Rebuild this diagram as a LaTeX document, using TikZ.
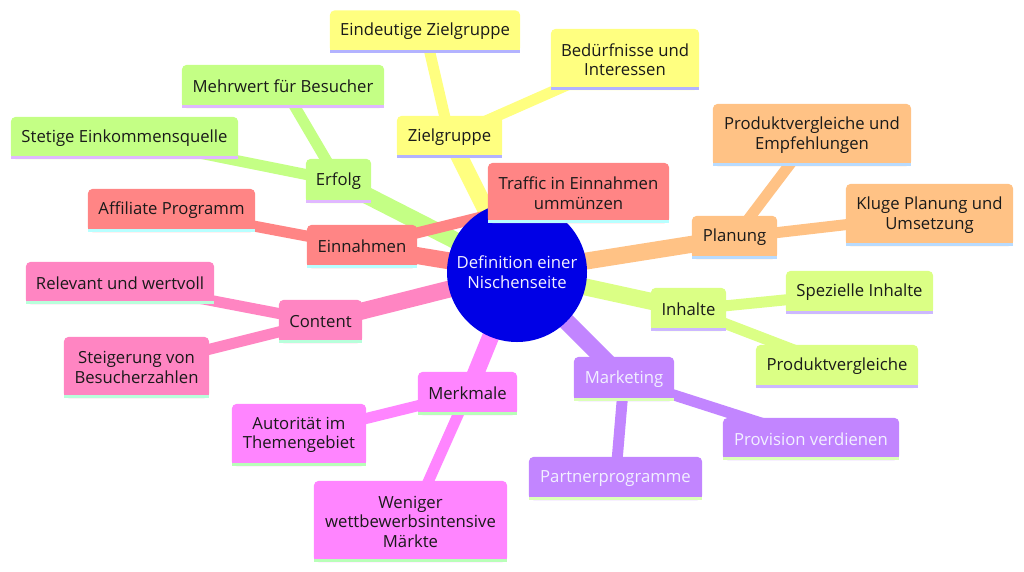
\documentclass[tikz,border=0pt]{standalone}
\usepackage{fontspec}
\setmainfont{Open Sans}
\pgfdeclarelayer{edges}
\pgfdeclarelayer{boxes}
\pgfsetlayers{edges,boxes,main}
\definecolor{txt}{HTML}{1A1A1A}
\definecolor{lighttxt}{HTML}{F2F0FF}
\definecolor{rootblue}{HTML}{0000E6}
\definecolor{cYel}{HTML}{FFFF80}\definecolor{bYel}{HTML}{B3B3FF}
\definecolor{cGrn}{HTML}{C4FF85}\definecolor{bGrn}{HTML}{E0B8FF}
\definecolor{cRed}{HTML}{FF8585}\definecolor{bRed}{HTML}{B8FFFF}
\definecolor{cPnk}{HTML}{FF85C2}\definecolor{bPnk}{HTML}{B8FFDB}
\definecolor{cMag}{HTML}{FF85FF}\definecolor{bMag}{HTML}{B8FFB8}
\definecolor{cPur}{HTML}{C285FF}\definecolor{bPur}{HTML}{DBFFB8}
\definecolor{cLim}{HTML}{DBFF85}\definecolor{bLim}{HTML}{CCB8FF}
\definecolor{cOrg}{HTML}{FFC285}\definecolor{bOrg}{HTML}{B8DBFF}
\newcommand\mmfill[3]{%
  \fill[#2, rounded corners=5pt] (#1.south west) rectangle (#1.north east);
  \fill[#2] (#1.south west) rectangle ([yshift=8pt]#1.south east);
  \fill[#3] (#1.south west) rectangle ([yshift=3pt]#1.south east);
}
\tikzset{
  mm/.style={inner sep=0pt, align=center, text=txt, font=\fontsize{16.7}{19.5}\selectfont},
  e1/.style={line width=17pt},
  e2/.style={line width=11pt},
}
\begin{document}
\begin{tikzpicture}[x=1pt,y=-1pt]
\useasboundingbox (0,0) rectangle (1024,571);
% root
\node[circle, minimum size=140pt, inner sep=0pt, align=center, text=lighttxt, font=\fontsize{16.7}{19.5}\selectfont] (root) at (517,272) {Definition einer\\Nischenseite};
% Zielgruppe
\node[mm, minimum width=105pt, minimum height=42pt] (ziel) at (449.5,137) {Zielgruppe};
\node[mm, minimum width=190pt, minimum height=42pt] (eind) at (425,31.5) {Eindeutige Zielgruppe};
\node[mm, minimum width=148pt, minimum height=61pt] (bed) at (625,59.5) {Bedürfnisse und\\Interessen};
% Erfolg
\node[mm, minimum width=65pt, minimum height=44pt] (erf) at (338.5,181) {Erfolg};
\node[mm, minimum width=202pt, minimum height=43pt] (mehr) at (283,86.5) {Mehrwert für Besucher};
\node[mm, minimum width=227pt, minimum height=42pt] (stet) at (124.5,138) {Stetige Einkommensquelle};
% Einnahmen
\node[mm, minimum width=110pt, minimum height=43pt] (einn) at (362,246.5) {Einnahmen};
\node[mm, minimum width=167pt, minimum height=43pt] (aff) at (171.5,210.5) {Affiliate Programm};
\node[mm, minimum width=181pt, minimum height=60pt] (traf) at (578.5,193) {Traffic in Einnahmen\\ummünzen};
% Content
\node[mm, minimum width=83pt, minimum height=43pt] (cont) at (320.5,321.5) {Content};
\node[mm, minimum width=188pt, minimum height=42pt] (rel) at (120,283) {Relevant und wertvoll};
\node[mm, minimum width=145pt, minimum height=61pt] (steig) at (136.5,367.5) {Steigerung von\\Besucherzahlen};
% Merkmale
\node[mm, minimum width=99pt, minimum height=43pt] (merk) at (467.5,393.5) {Merkmale};
\node[mm, minimum width=134pt, minimum height=62pt] (auto) at (299,435) {Autorität im\\Themengebiet};
\node[mm, minimum width=193pt, minimum height=81pt] (wen) at (410.5,521.5) {Weniger\\wettbewerbsintensive\\Märkte};
% Marketing
\node[mm, text=lighttxt, minimum width=100pt, minimum height=44pt] (mark) at (624,379) {Marketing};
\node[mm, text=lighttxt, minimum width=176pt, minimum height=42pt] (prov) at (811,439) {Provision verdienen};
\node[mm, text=lighttxt, minimum width=173pt, minimum height=43pt] (part) at (615.5,478.5) {Partnerprogramme};
% Inhalte
\node[mm, minimum width=75pt, minimum height=43pt] (inh) at (688.5,309.5) {Inhalte};
\node[mm, minimum width=147pt, minimum height=43pt] (spez) at (859.5,292.5) {Spezielle Inhalte};
\node[mm, minimum width=162pt, minimum height=43pt] (prod) at (837,366.5) {Produktvergleiche};
% Planung
\node[mm, minimum width=85pt, minimum height=43pt] (plan) at (734.5,237.5) {Planung};
\node[mm, minimum width=198pt, minimum height=62pt] (pve) at (812,135) {Produktvergleiche und\\Empfehlungen};
\node[mm, minimum width=167pt, minimum height=62pt] (klug) at (929.5,215) {Kluge Planung und\\Umsetzung};

\begin{pgfonlayer}{edges}
\draw[e1, cYel] (root.center) -- (ziel.center);
\draw[e2, cYel] (ziel.center) -- (eind.center);
\draw[e2, cYel] (ziel.center) -- (bed.center);
\draw[e1, cGrn] (root.center) -- (erf.center);
\draw[e2, cGrn] (erf.center) -- (mehr.center);
\draw[e2, cGrn] (erf.center) -- (stet.center);
\draw[e1, cRed] (root.center) -- (einn.center);
\draw[e2, cRed] (einn.center) -- (aff.center);
\draw[e2, cRed] (einn.center) -- (traf.center);
\draw[e1, cPnk] (root.center) -- (cont.center);
\draw[e2, cPnk] (cont.center) -- (rel.center);
\draw[e2, cPnk] (cont.center) -- (steig.center);
\draw[e1, cMag] (root.center) -- (merk.center);
\draw[e2, cMag] (merk.center) -- (auto.center);
\draw[e2, cMag] (merk.center) -- (wen.center);
\draw[e1, cPur] (root.center) -- (mark.center);
\draw[e2, cPur] (mark.center) -- (prov.center);
\draw[e2, cPur] (mark.center) -- (part.center);
\draw[e1, cLim] (root.center) -- (inh.center);
\draw[e2, cLim] (inh.center) -- (spez.center);
\draw[e2, cLim] (inh.center) -- (prod.center);
\draw[e1, cOrg] (root.center) -- (plan.center);
\draw[e2, cOrg] (plan.center) -- (pve.center);
\draw[e2, cOrg] (plan.center) -- (klug.center);
\end{pgfonlayer}

\begin{pgfonlayer}{boxes}
\fill[rootblue] (root.center) circle (70pt);
\mmfill{ziel}{cYel}{bYel}\mmfill{eind}{cYel}{bYel}\mmfill{bed}{cYel}{bYel}
\mmfill{erf}{cGrn}{bGrn}\mmfill{mehr}{cGrn}{bGrn}\mmfill{stet}{cGrn}{bGrn}
\mmfill{einn}{cRed}{bRed}\mmfill{aff}{cRed}{bRed}\mmfill{traf}{cRed}{bRed}
\mmfill{cont}{cPnk}{bPnk}\mmfill{rel}{cPnk}{bPnk}\mmfill{steig}{cPnk}{bPnk}
\mmfill{merk}{cMag}{bMag}\mmfill{auto}{cMag}{bMag}\mmfill{wen}{cMag}{bMag}
\mmfill{mark}{cPur}{bPur}\mmfill{prov}{cPur}{bPur}\mmfill{part}{cPur}{bPur}
\mmfill{inh}{cLim}{bLim}\mmfill{spez}{cLim}{bLim}\mmfill{prod}{cLim}{bLim}
\mmfill{plan}{cOrg}{bOrg}\mmfill{pve}{cOrg}{bOrg}\mmfill{klug}{cOrg}{bOrg}
\end{pgfonlayer}
\end{tikzpicture}
\end{document}
